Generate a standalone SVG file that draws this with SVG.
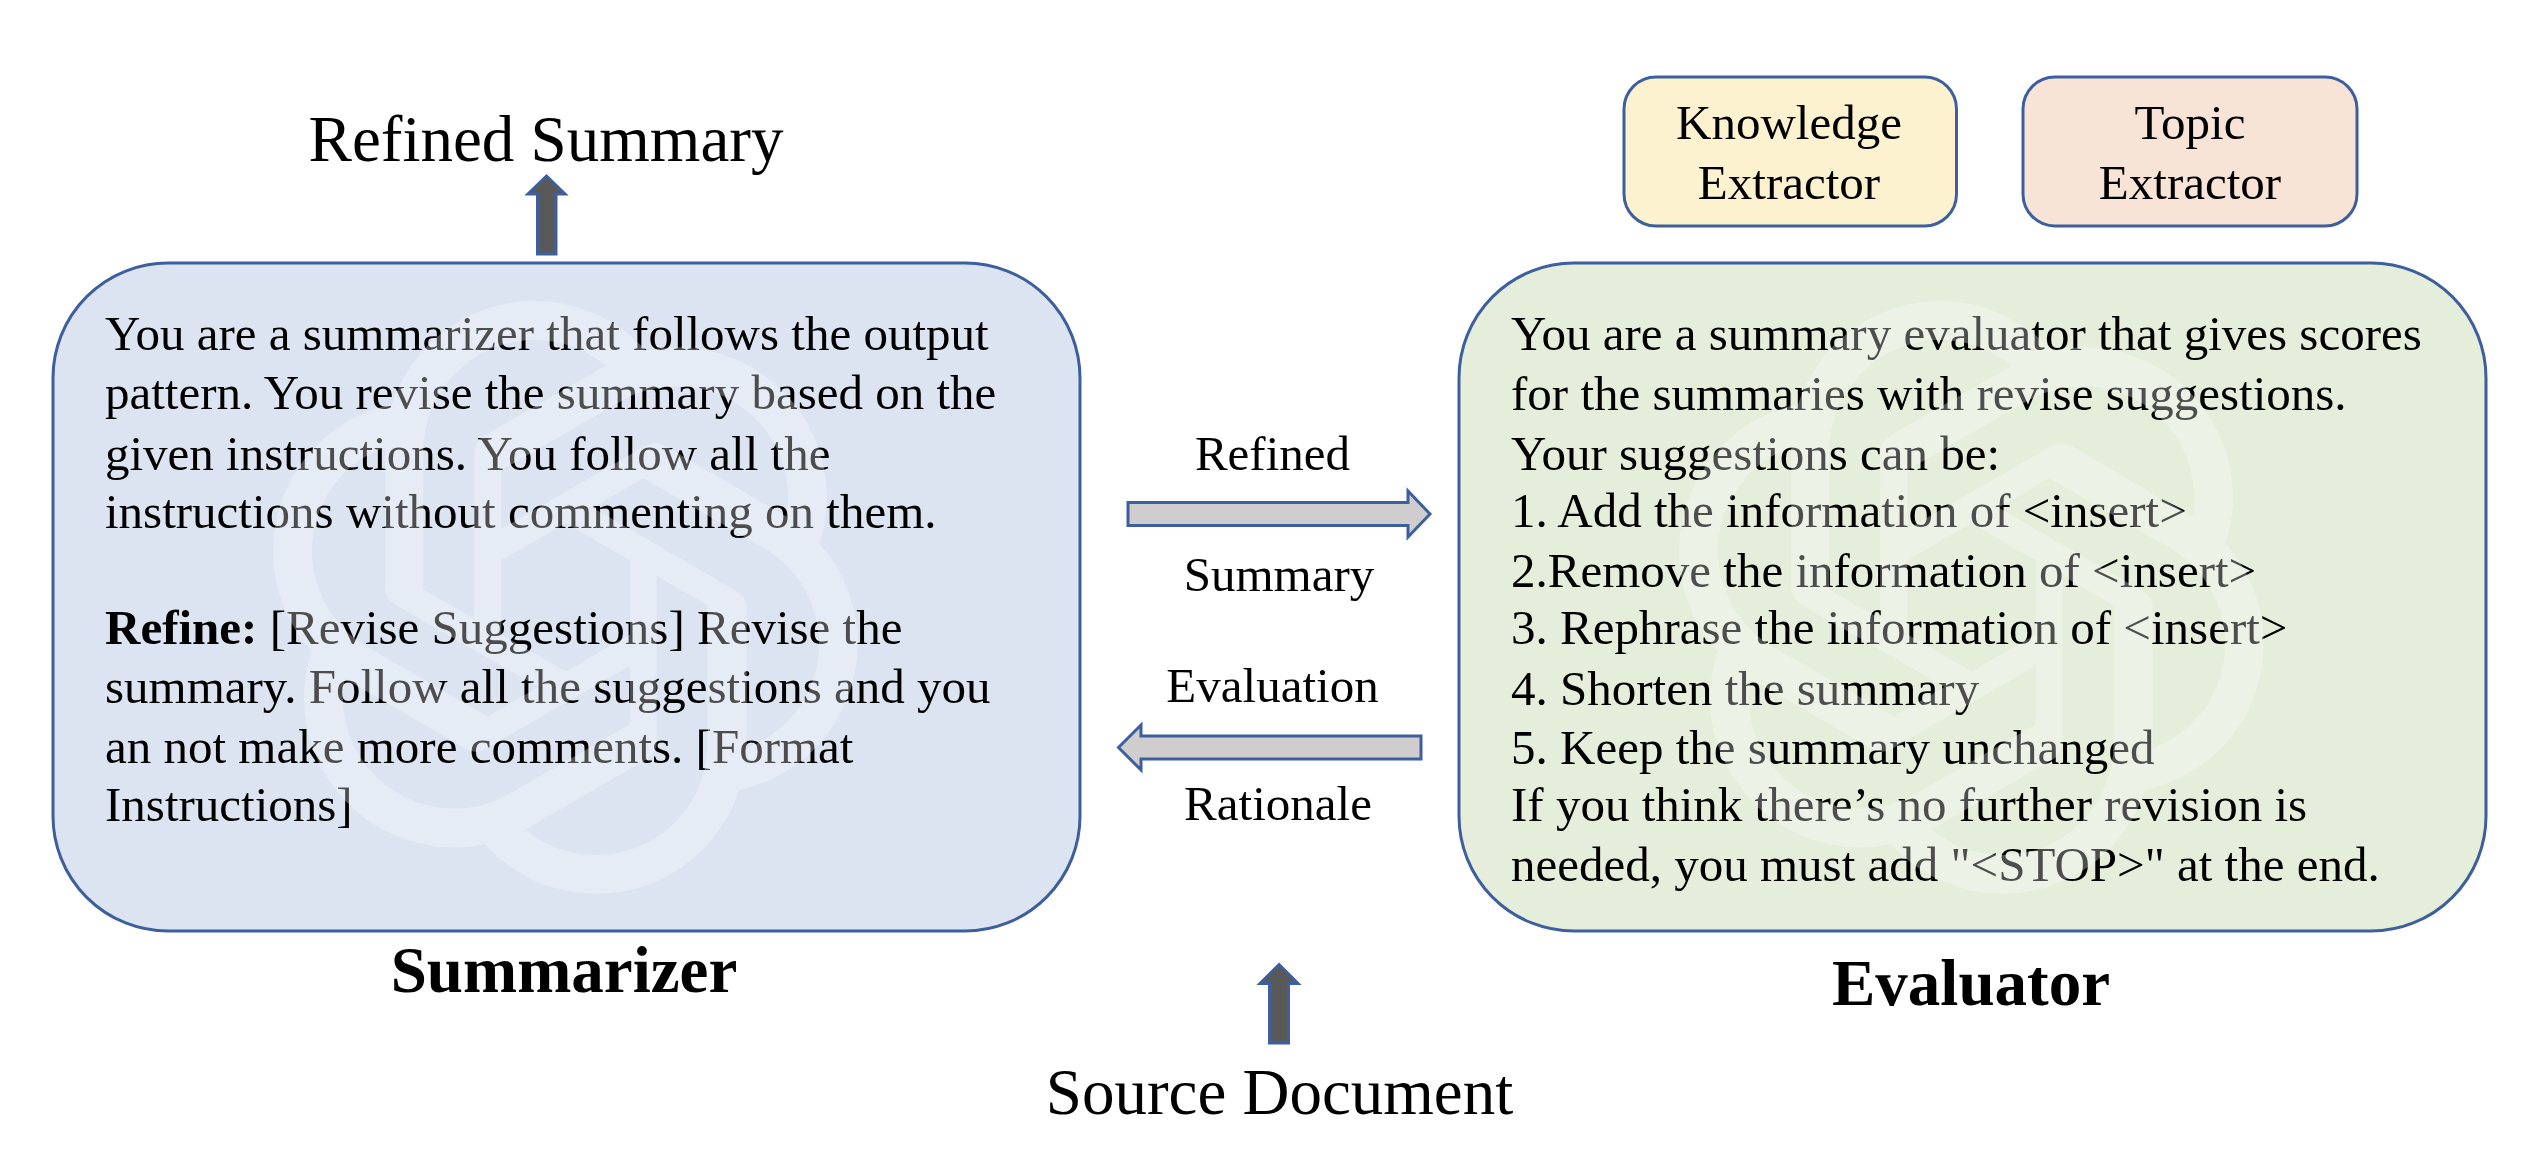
<svg xmlns="http://www.w3.org/2000/svg" width="2538" height="1152" viewBox="0 0 2538 1152">
<style>
text{font-family:"Liberation Serif","Times New Roman",serif;fill:#000}
.b{font-size:49px}
.m{font-size:49px;text-anchor:middle}
.l{font-size:65px;text-anchor:middle}
.t{font-size:65px;font-weight:bold;text-anchor:middle}
.box{stroke:#3E5F9D;stroke-width:3}
.grey{fill:#CFCDCE;stroke:#3E5F9D;stroke-width:3}
.dark{fill:#595959;stroke:#3E5F9D;stroke-width:3}
.wm{fill:#fff;fill-opacity:.3}
</style>
<defs>
<path id="logo" d="M22.2819 9.8211a5.9847 5.9847 0 0 0-.5157-4.9108 6.0462 6.0462 0 0 0-6.5098-2.9A6.0651 6.0651 0 0 0 4.9807 4.1818a5.9847 5.9847 0 0 0-3.9977 2.9 6.0462 6.0462 0 0 0 .7427 7.0966 5.98 5.98 0 0 0 .511 4.9107 6.051 6.051 0 0 0 6.5146 2.9001A5.9847 5.9847 0 0 0 13.2599 24a6.0557 6.0557 0 0 0 5.7718-4.2058 5.9894 5.9894 0 0 0 3.9977-2.9001 6.0557 6.0557 0 0 0-.7475-7.0729zm-9.022 12.6081a4.4755 4.4755 0 0 1-2.8764-1.0408l.1419-.0804 4.7783-2.7582a.7948.7948 0 0 0 .3927-.6813v-6.7369l2.02 1.1686a.071.071 0 0 1 .038.052v5.5826a4.504 4.504 0 0 1-4.4945 4.4944zm-9.6607-4.1254a4.4708 4.4708 0 0 1-.5346-3.0137l.142.0852 4.783 2.7582a.7712.7712 0 0 0 .7806 0l5.8428-3.3685v2.3324a.0804.0804 0 0 1-.0332.0615L9.74 19.9502a4.4992 4.4992 0 0 1-6.1408-1.6464zM2.3408 7.8956a4.485 4.485 0 0 1 2.3655-1.9728V11.6a.7664.7664 0 0 0 .3879.6765l5.8144 3.3543-2.0201 1.1685a.0757.0757 0 0 1-.071 0l-4.8303-2.7865A4.504 4.504 0 0 1 2.3408 7.872zm16.5963 3.8558L13.1038 8.364 15.1192 7.2a.0757.0757 0 0 1 .071 0l4.8303 2.7913a4.4944 4.4944 0 0 1-.6765 8.1042v-5.6772a.79.79 0 0 0-.407-.667zm2.0107-3.0231l-.142-.0852-4.7735-2.7818a.7759.7759 0 0 0-.7854 0L9.409 9.2297V6.8974a.0662.0662 0 0 1 .0284-.0615l4.8303-2.7866a4.4992 4.4992 0 0 1 6.6802 4.66zM8.3065 12.863l-2.02-1.1638a.0804.0804 0 0 1-.038-.0567V6.0742a4.4992 4.4992 0 0 1 7.3757-3.4537l-.142.0805L8.704 5.459a.7948.7948 0 0 0-.3927.6813zm1.0976-2.3654l2.602-1.4998 2.6069 1.4998v2.9994l-2.5974 1.4997-2.6067-1.4997Z"/>
</defs>
<rect width="2538" height="1152" fill="#fff"/>
<g id="summarizer">
<rect class="box" x="53" y="263" width="1027" height="668" rx="115" ry="115" fill="#DCE4F1"/>
<text class="b" x="105" y="349.500">You are a summarizer that follows the output</text>
<text class="b" x="105" y="409">pattern. You revise the summary based on the</text>
<text class="b" x="105" y="469.500">given instructions. You follow all the</text>
<text class="b" x="105" y="527.500">instructions without commenting on them.</text>
<text class="b" x="105" y="643.500"><tspan font-weight="bold">Refine:</tspan> [Revise Suggestions] Revise the</text>
<text class="b" x="105" y="702.500">summary. Follow all the suggestions and you</text>
<text class="b" x="105" y="762.500">an not make more comments. [Format</text>
<text class="b" x="105" y="820.500">Instructions]</text>
<use href="#logo" class="wm" transform="translate(269 301) scale(24.7)"/>
<text class="t" x="564" y="992">Summarizer</text>
</g>
<g id="evaluator">
<rect class="box" x="1459" y="263" width="1027" height="668" rx="115" ry="115" fill="#E4EEDB"/>
<text class="b" x="1511" y="350">You are a summary evaluator that gives scores</text>
<text class="b" x="1511" y="409.500">for the summaries with revise suggestions.</text>
<text class="b" x="1511" y="469.500">Your suggestions can be:</text>
<text class="b" x="1511" y="526.500">1. Add the information of &lt;insert&gt;</text>
<text class="b" x="1511" y="586.500">2.Remove the information of &lt;insert&gt;</text>
<text class="b" x="1511" y="643.500">3. Rephrase the information of &lt;insert&gt;</text>
<text class="b" x="1511" y="704.500">4. Shorten the summary</text>
<text class="b" x="1511" y="763.500">5. Keep the summary unchanged</text>
<text class="b" x="1511" y="820.500">If you think there’s no further revision is</text>
<text class="b" x="1511" y="881">needed, you must add "&lt;STOP&gt;" at the end.</text>
<use href="#logo" class="wm" transform="translate(1675 301) scale(24.7)"/>
<text class="t" x="1971" y="1005">Evaluator</text>
</g>
<g id="knowledge-extractor">
<rect class="box" x="1624" y="77" width="332.500" height="149" rx="32" ry="32" fill="#FCF2CF"/>
<text class="m" x="1789" y="139">Knowledge</text>
<text class="m" x="1789" y="199">Extractor</text>
</g>
<g id="topic-extractor">
<rect class="box" x="2023" y="77" width="334" height="149" rx="32" ry="32" fill="#F7E4D7"/>
<text class="m" x="2190" y="139">Topic</text>
<text class="m" x="2190" y="199">Extractor</text>
</g>
<g id="refined-summary-output">
<text class="l" x="546" y="161">Refined Summary</text>
</g>
<g id="source-document">
<text class="l" x="1279.500" y="1114">Source Document</text>
</g>
<g id="connectors">
<polygon class="dark" points="546.500,176 565,194 556,194 556,254 537.500,254 537.500,194 528,194"/>
<polygon class="dark" points="1279,964.500 1298,983.500 1288.500,983.500 1288.500,1043 1269.500,1043 1269.500,983.500 1260,983.500"/>
<polygon class="grey" points="1128,502.500 1408,502.500 1408,491 1430,514 1408,537 1408,525.500 1128,525.500"/>
<polygon class="grey" points="1421,736 1141,736 1141,725 1118.500,747.500 1141,770 1141,759 1421,759"/>
<text class="m" x="1272.500" y="470">Refined</text>
<text class="m" x="1279" y="591">Summary</text>
<text class="m" x="1272.500" y="702">Evaluation</text>
<text class="m" x="1278" y="820">Rationale</text>
</g>
</svg>
